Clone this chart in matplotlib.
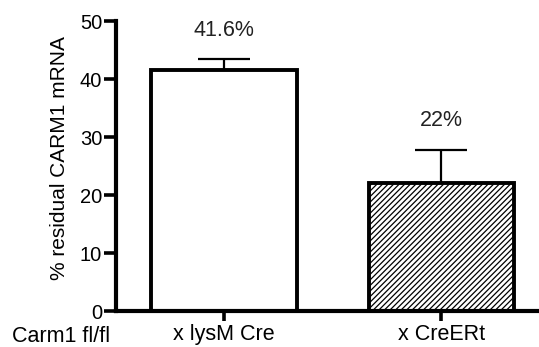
import matplotlib
matplotlib.use("Agg")
import matplotlib.pyplot as plt

groups = ["x lysM Cre", "x CreERt"]
residual = [41.6, 22.0]
sem = [1.8, 5.8]
value_labels = ["41.6%", "22%"]
yticks = [0, 10, 20, 30, 40, 50]

plt.rcParams["font.family"] = ["Liberation Sans", "DejaVu Sans"]
plt.rcParams["hatch.linewidth"] = 0.9

fig = plt.figure(figsize=(5.39, 3.47), dpi=100)
ax = fig.add_axes([0.2152, 0.1037, 0.7848, 0.8357])

x = list(range(len(groups)))
bars = ax.bar(x, residual, width=0.67, color="white", edgecolor="black",
              linewidth=2.8, zorder=2)
bars[1].set_hatch("//////")

ax.errorbar(x, residual, yerr=[[0, 0], sem], fmt="none", ecolor="black",
            elinewidth=1.6, capsize=18.5, capthick=1.6, zorder=1)

for xi, v, s, lab in zip(x, residual, sem, value_labels):
    ax.annotate(lab, (xi, v + s), xytext=(0, 17), textcoords="offset points",
                ha="center", va="baseline", fontsize=15.5, color="#222222")

ax.set_xlim(-0.498, 1.45)
ax.set_ylim(0, 50)
ax.set_yticks(yticks)
ax.set_xticks(x)
ax.set_xticklabels(groups, fontsize=15.5)
ax.tick_params(axis="y", labelsize=14.5, length=8.5, width=2.6, pad=1.5)
ax.tick_params(axis="x", length=7.5, width=2.6, pad=2)
ax.set_ylabel("% residual CARM1 mRNA", fontsize=15)
ax.yaxis.set_label_coords(-0.11, 0.526)

for side in ("top", "right"):
    ax.spines[side].set_visible(False)
for side in ("left", "bottom"):
    ax.spines[side].set_linewidth(3)

fig.text(12 / 539, 1 - 342 / 347, "Carm1 fl/fl", fontsize=15.5,
         ha="left", va="baseline")

fig.savefig("out.png", dpi=100)
